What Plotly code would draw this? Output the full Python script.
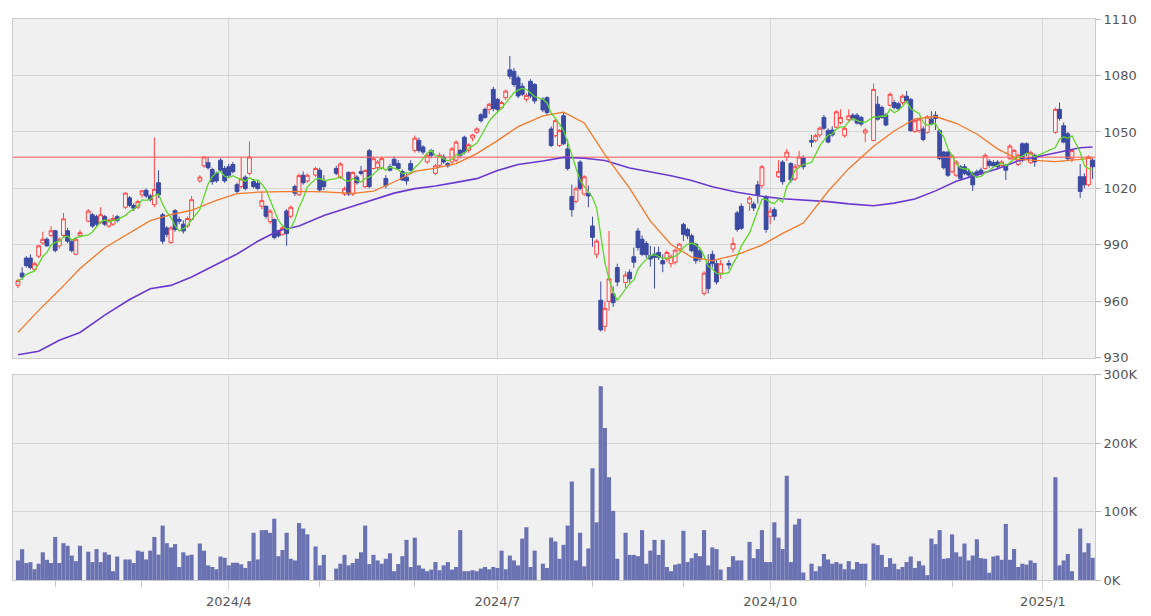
import pandas as pd
import plotly.graph_objects as go

# trading calendar: weekdays minus the Japanese market holidays in the window
holidays = ["2024-02-12", "2024-02-23", "2024-03-20", "2024-04-29", "2024-05-03",
            "2024-05-06", "2024-07-15", "2024-08-12", "2024-09-16", "2024-09-23",
            "2024-10-14", "2024-11-04", "2024-12-31", "2025-01-01", "2025-01-02",
            "2025-01-03", "2025-01-13"]
dates = pd.bdate_range("2024-01-19", "2025-01-17", freq="C", holidays=holidays)

# ---- daily prices (Jan 2024 .. Jan 2025) ----
open_ = [
    968.5, 975, 983, 983, 977, 984, 991, 993, 995,
    997.5, 989.5, 995, 997.5, 992, 985, 994.8, 1002.6, 1006, 1005, 1002, 1005, 1000, 1001, 1005, 1010, 1015, 1011, 1010,
    1016.6, 1019, 1016, 1011.4, 1023, 1006, 999, 991.3, 1008.2, 1003.5, 1001, 1000, 1003.5, 1024, 1032, 1033.7, 1030, 1028, 1035, 1030.6,
    1031.5, 1032.7, 1022, 1021, 1026, 1028, 1023.6, 1022.7, 1010.5, 1010.5, 1002.4, 1003.5, 997.4, 995.6, 1008, 1005.2, 1021, 1016.6, 1027, 1024, 1027.1,
    1029.7, 1024, 1030.6, 1025.7, 1017, 1028.5, 1017, 1026, 1029, 1021, 1040, 1030.6, 1031, 1030.6, 1025.3, 1031.5, 1035.5, 1033.2, 1028.9, 1026, 1033.2,
    1040.2, 1045.5, 1042, 1034.1, 1040.2, 1028, 1032.3, 1036.7, 1033.2, 1034.1, 1035, 1040.2, 1047.2, 1040.2, 1046.7, 1049.8, 1059.1, 1062, 1062, 1072.6,
    1067.3, 1062.9, 1068.2, 1083, 1082.2, 1078.7, 1074.3, 1067.3, 1076.9, 1075.2, 1067.3, 1068.2, 1051.6, 1048, 1042.8, 1058.6, 1041, 1015.7, 1013.1, 1034, 1017, 1017.5,
    1000, 985, 960.6, 946.7, 960, 964, 978, 970, 975.5, 983.7, 997.4, 993, 990.7, 984.3, 985.1, 986, 981.6, 982.5, 980, 980.8, 987.8,
    1000.9, 998.2, 994.8, 990.4, 986.9, 964.2, 980.2, 985, 980, 975, 980.2, 987.8, 1007, 1010.5, 1012.2, 1011.7, 1021.9, 1021.5, 1015.7,
    1005.2, 1008.7, 1026.2, 1034, 1036.7, 1033.2, 1025, 1032, 1036.2, 1045.5, 1045.5, 1048.4, 1057.7, 1050.7, 1051, 1052.5, 1055, 1048, 1056.5, 1058.9, 1058.9, 1057.7,
    1049.5, 1045.5, 1064.7, 1063, 1059, 1064.2, 1065.6, 1065, 1065.6, 1069, 1067.3, 1050.2, 1050.7, 1051.6, 1049.8, 1056.8, 1058.9, 1050.7, 1039.3, 1039.3,
    1028.9, 1027, 1031.5, 1031.5, 1028.8, 1028, 1028.8, 1029.7, 1030.6, 1034.4, 1033.7, 1034, 1032.3, 1032.3, 1035.8, 1035.5, 1032.7, 1043.7, 1043.7, 1033.7, 1037.6,
    1049.8, 1062, 1053.3, 1049, 1035.8, 1026.2, 1026.2, 1021.9, 1035,
]
high = [
    972, 978, 984, 985, 981, 990, 997, 994, 1000,
    998, 994, 1007, 999, 993, 994, 998, 1009, 1007, 1006, 1010, 1006, 1004, 1006, 1006, 1018, 1016, 1012, 1014,
    1019, 1020, 1017, 1047, 1029.7, 1007, 1000, 1000, 1009, 1005, 1003, 1005, 1016, 1027, 1037, 1037, 1031, 1029, 1036, 1032,
    1033, 1034, 1023, 1036.7, 1027, 1045, 1025, 1024, 1018.4, 1011, 1009, 1004, 998, 1000, 1009, 1011, 1022, 1028, 1029, 1028, 1031.5,
    1031, 1027, 1032, 1034, 1021, 1029, 1029, 1027, 1032, 1030, 1041, 1037, 1035, 1037, 1027, 1033, 1037, 1035, 1030, 1028, 1035,
    1048, 1047, 1043, 1039, 1041, 1033, 1039, 1038, 1034, 1042, 1045.5, 1041, 1048, 1044, 1049, 1052.5, 1060, 1063, 1065.5, 1074,
    1068, 1066.5, 1072.5, 1090.4, 1084, 1080, 1076, 1070.5, 1078, 1076, 1068.5, 1069, 1053, 1057, 1051.5, 1060, 1046, 1022, 1021, 1035, 1027, 1021.5,
    1005, 993, 970.5, 960, 997.4, 968, 980, 976, 977, 988.6, 999, 995, 992, 989.5, 989, 989, 985, 987, 985, 988, 991,
    1001.7, 999, 996, 991, 988, 976, 985, 987, 982, 982, 982, 994, 1008, 1012, 1016, 1013, 1024, 1032.5, 1016.5,
    1010, 1010, 1035, 1035, 1041, 1034, 1033, 1040, 1037.5, 1048.4, 1049, 1053, 1059, 1052, 1053, 1061.5, 1062, 1053, 1062, 1060, 1060, 1058.5,
    1052, 1075.7, 1069, 1064, 1060, 1071, 1067, 1066, 1070, 1071.7, 1068, 1057, 1057.5, 1053, 1059, 1061, 1061, 1051.5, 1040, 1040,
    1038, 1035, 1032.5, 1033, 1030, 1029, 1030, 1031, 1038.5, 1035.5, 1035, 1035, 1035, 1033, 1043.5, 1041, 1038.5, 1044.5, 1044.5, 1040, 1038.5,
    1063, 1065.6, 1055, 1050, 1041, 1033, 1028, 1037.5, 1036,
]
low = [
    967, 971.5, 978, 977, 976, 983, 990, 989, 994,
    986, 988, 994, 991, 986, 984.5, 994, 1002, 999, 1000, 1001, 1000, 999, 1000, 1002, 1009, 1010, 1008, 1009,
    1015, 1015, 1013, 1010, 1015, 990.5, 994, 990.5, 997, 1001, 996, 999, 1003, 1023, 1031, 1030, 1022, 1023, 1029, 1023,
    1026, 1028, 1017, 1020, 1019, 1027, 1020, 1019, 1009, 1004, 1001, 993, 994, 995, 989.5, 1004, 1016, 1016, 1022, 1023, 1026,
    1018, 1019, 1027, 1025, 1016, 1016, 1016, 1022, 1027, 1020, 1020, 1030, 1030, 1030, 1020, 1029, 1032, 1030, 1024, 1022, 1029,
    1039, 1039, 1038, 1033, 1036, 1027, 1031, 1033, 1031, 1033, 1034, 1036, 1038, 1039, 1045, 1049, 1055, 1057, 1059.5, 1061,
    1060, 1062, 1067, 1078, 1074, 1068, 1069, 1066, 1068, 1065, 1060.5, 1059, 1042, 1047, 1042, 1043, 1029.5, 1005, 1012, 1019, 1016, 1010,
    989, 983, 944, 944, 955, 957, 968, 967, 970, 977.8, 987, 984, 983, 978.5, 966.8, 982, 975.5, 981, 978, 979.5, 986.5,
    992, 993, 986, 980, 981, 963, 964.2, 978, 969, 972, 977, 986, 997, 998, 1008, 1008, 1012, 1020, 996.5,
    1001, 1003, 1025.5, 1022, 1034.5, 1023, 1024, 1031, 1030, 1042, 1044.5, 1047, 1051, 1044, 1047.5, 1052, 1054, 1047, 1055.5, 1056, 1054, 1053,
    1044.6, 1045, 1056, 1057, 1053, 1063.5, 1062, 1061.5, 1064.5, 1065.5, 1050, 1049.5, 1049.5, 1045, 1049, 1053.5, 1051, 1035, 1030, 1026,
    1028, 1026, 1024.5, 1027, 1026, 1018.7, 1026, 1027, 1030, 1031, 1031, 1030, 1031.5, 1024.5, 1035, 1035, 1032, 1034, 1037, 1033, 1031.5,
    1049, 1056, 1044, 1035, 1034, 1015, 1020, 1021, 1025,
]
close = [
    971, 973, 979, 978, 980, 989.5, 993, 989.5, 997.5,
    987, 993, 1003.8, 992, 987, 993, 996.5, 1008, 1000, 1001, 1006, 1001, 1003, 1004, 1003, 1017.5, 1011, 1009.5, 1013,
    1018.7, 1016, 1014, 1019.5, 1016.6, 992, 995.6, 999, 998.2, 1002.6, 997.4, 1004, 1014, 1026, 1036.7, 1031, 1023.6, 1024, 1029.7, 1024,
    1027, 1028.9, 1018.4, 1025, 1020, 1036.7, 1021, 1020, 1013.5, 1005.2, 1007.9, 993.9, 994.8, 999.1, 996, 1010, 1017.5, 1026.8, 1023, 1027, 1030.6,
    1019.2, 1021, 1028, 1033, 1019.8, 1017, 1028.5, 1023, 1028, 1029.6, 1021, 1035.8, 1034, 1035.8, 1021.5, 1029.7, 1032.3, 1030.6, 1024.5, 1024, 1029.7,
    1046.7, 1040.2, 1039.3, 1037.6, 1037.6, 1032, 1037.6, 1034.1, 1032, 1041, 1044.6, 1037.6, 1039.3, 1043.2, 1048.4, 1051.6, 1056, 1057.7, 1064.7, 1062.4,
    1062, 1065.6, 1071.7, 1079.6, 1075.2, 1069.1, 1070, 1069.4, 1069.1, 1066.5, 1061.7, 1060.3, 1042.8, 1056, 1050.7, 1043.7, 1030.6, 1008.7, 1019.8, 1020, 1026.2, 1016,
    994, 992, 944.9, 956.3, 972, 959.3, 970.3, 974, 972, 980.8, 988.6, 985, 984.8, 982.5, 983.4, 983.4, 979.9, 986, 983.7, 987.2, 990.4,
    995.6, 994.8, 986.9, 981.6, 982.5, 975, 966.8, 980, 970.3, 980, 979.3, 990.7, 998.2, 998.8, 1014.9, 1009.6, 1016.6, 1031.5, 998.2,
    1007.9, 1005.2, 1028.9, 1023.6, 1039.3, 1024.5, 1031.5, 1036.7, 1031.5, 1044.6, 1048, 1052, 1052, 1044.6, 1048.4, 1060.7, 1057.7, 1052, 1058.6, 1057.2, 1054.7, 1054.2,
    1051, 1072.6, 1056.8, 1057.7, 1053.7, 1070, 1063, 1062.4, 1069, 1066.5, 1050.7, 1056, 1056.8, 1046, 1058, 1054.2, 1057.2, 1035.8, 1031, 1027,
    1037.2, 1034, 1025.4, 1028, 1027.1, 1021.9, 1027.1, 1028, 1037.6, 1032.3, 1032, 1031.5, 1034.1, 1029.7, 1042.5, 1040.2, 1037.6, 1035, 1038.5, 1039, 1034.1,
    1062, 1057.2, 1044.6, 1035.8, 1040.2, 1018.4, 1021.9, 1036.7, 1031.5,
]
# volume in thousands of shares
volume_k = [
    28.6, 45, 24.8, 26, 15.7, 23.8, 40.5, 29.5, 24.8,
    62.9, 24.8, 53.8, 50, 35.7, 27.6, 50, 41.4, 26.2, 45.2, 26.2, 40.5, 37, 12.9, 34.3, 30, 30, 24.8, 42.9,
    41.4, 30, 42.9, 62.9, 37.1, 79.5, 53.8, 47.6, 52.4, 19, 40.5, 35.7, 37, 53.3, 42.9, 21.4, 19, 15.7, 34.3, 32.4,
    21.4, 25.2, 25.2, 22.9, 17.6, 27.6, 69, 30, 72.9, 72.9, 69, 89.5, 34.8, 43.8, 69, 31, 28.6, 83.3, 75.2, 66.7, 49,
    21.4, 36.7, 16.7, 23.8, 36.7, 21.4, 24.8, 31, 40.5, 79.5, 23.3, 36.7, 28.6, 23.8, 31, 39, 12.9, 23.3, 34.8, 58.6, 19,
    61.9, 21.4, 16.7, 12.9, 15.2, 26.2, 14.3, 21.4, 26.2, 15.2, 19, 72.9, 12.9, 12.9, 14.3, 12.9, 16.7, 19, 15.7, 19,
    17.6, 42.9, 15.7, 35.7, 28.6, 21.4, 60.5, 77.1, 19, 42.9, 23.8, 17.6, 61.9, 56.2, 31, 51.4, 79.5, 143.8, 28.6, 69, 20, 46.2,
    163.3, 84.3, 283, 222, 150, 101, 31, 69, 36.7, 36.7, 34.8, 72.9, 23.8, 42.9, 58.6, 36.7, 58.6, 19, 12.9, 22.4, 23.8,
    71.9, 26.2, 31.9, 39, 34.8, 72.9, 21.4, 47.6, 45.2, 15.2, 19, 34.8, 28.6, 28.6, 55.7, 31.9, 45.2, 72.9, 26.2,
    26.2, 84.3, 61.9, 45.2, 152.4, 26.2, 81, 89.5, 11, 23.8, 12.9, 20, 38.1, 30, 23.8, 26.2, 23.8, 15.7, 27.6, 15.7, 26.2, 23.8,
    23.8, 53.3, 51, 36.7, 19, 31.9, 23.8, 15.7, 19, 26.2, 34.3, 17.6, 27.6, 21.4, 7.1, 60.5, 52.4, 72.9, 31, 31.9,
    66.7, 40.5, 34.3, 53.3, 28.6, 35.7, 59.5, 31.9, 31, 10.5, 34.3, 35.7, 29.5, 81.9, 29.5, 45.2, 19, 23.8, 22.4, 28.6, 25,
    150, 21.4, 28.6, 38.1, 12.9, 75.2, 40.5, 53.8, 32.4,
]

# moving averages, one value every 5th trading day
ma_idx = list(range(0, 244, 5)) + [243]
ma25 = [943.5, 955.2, 966, 977.5, 988.5, 996.5, 1002.9, 1006.1, 1008.4, 1013.7,
        1017.2, 1018, 1018.2, 1018.4, 1018.2, 1017.4, 1018.6, 1023.4, 1029, 1030.8,
        1033.2, 1038.5, 1045.4, 1052.8, 1058.5, 1060.5, 1054.8, 1038, 1020, 1002.6,
        990.2, 983.5, 981.7, 984.8, 989.9, 996.1, 1001.6, 1018.5, 1030.5, 1042.4,
        1050.5, 1057, 1058.2, 1054.6, 1048.9, 1041, 1035.4, 1034.2, 1035.4, 1036.2]
ma75 = [931.6, 933.5, 939.3, 943.5, 952.7, 961, 966.7, 968.5, 973, 979.6,
        985.2, 991.9, 997.5, 1000, 1005.6, 1010.5, 1014.2, 1017.5, 1019.9, 1021.3,
        1023.2, 1025.2, 1029.5, 1032.7, 1034.6, 1036.5, 1036, 1034.8, 1030.8, 1028.9,
        1026.7, 1024.2, 1020.9, 1018, 1015.8, 1014.5, 1013.8, 1013, 1011.8, 1010.8,
        1012.2, 1014.4, 1018.7, 1023.8, 1027.2, 1030.5, 1034.7, 1038.8, 1041.6, 1042]
ref_price = 1036.5

quarter_ticks = ["2024-04-01", "2024-07-01", "2024-10-01", "2025-01-01"]
quarter_text = ["2024/4", "2024/7", "2024/10", "2025/1"]
month_ticks = ["2024-02-01", "2024-03-01", "2024-05-01", "2024-06-03", "2024-08-01",
               "2024-09-02", "2024-11-01", "2024-12-02"]

df = pd.DataFrame({"date": dates, "open": open_, "high": high, "low": low,
                   "close": close, "vol": [v * 1000 for v in volume_k]})
ma5 = df["close"].rolling(5, min_periods=1).mean()
ma_dates = df["date"].iloc[ma_idx]

GRID = "#d6d6d6"
BORDER = "#cccccc"
TXT = "#555555"
xrange = ["2024-01-17 19:00", "2025-01-17 14:00"]
breaks = [dict(bounds=["sat", "mon"])]

fig = go.Figure()
# reference price line, drawn first so the candles sit on top of it
fig.add_trace(go.Scatter(x=xrange, y=[ref_price, ref_price], mode="lines",
                         line=dict(color="rgba(255,100,100,0.75)", width=1.5),
                         xaxis="x", yaxis="y"))
fig.add_trace(go.Candlestick(
    x=df["date"], open=df["open"], high=df["high"], low=df["low"], close=df["close"],
    increasing=dict(line=dict(color="#ff4444", width=1), fillcolor="#fbf3f3"),
    decreasing=dict(line=dict(color="#3b4aa3", width=1), fillcolor="#3b4aa3"),
    whiskerwidth=0, xaxis="x", yaxis="y", hoverinfo="skip"))
fig.add_trace(go.Scatter(x=ma_dates, y=ma75, mode="lines",
                         line=dict(color="#6a3ad0", width=1.6), xaxis="x", yaxis="y"))
fig.add_trace(go.Scatter(x=ma_dates, y=ma25, mode="lines",
                         line=dict(color="#f5792a", width=1.3), xaxis="x", yaxis="y"))
fig.add_trace(go.Scatter(x=df["date"], y=ma5, mode="lines",
                         line=dict(color="#5fd62b", width=1.3), xaxis="x", yaxis="y"))
fig.add_trace(go.Bar(x=df["date"], y=df["vol"], width=86400000,
                     marker=dict(color="#6b72b2", line=dict(width=0)),
                     xaxis="x2", yaxis="y2", hoverinfo="skip"))

fig.update_layout(
    width=1151, height=616,
    margin=dict(l=4, r=64, t=4, b=44),
    paper_bgcolor="white", plot_bgcolor="#f0f0f0",
    showlegend=False, boxgap=0.08, boxgroupgap=0, hovermode=False,
    font=dict(family="DejaVu Sans", size=12, color=TXT),
    xaxis=dict(domain=[0, 1], anchor="y", type="date", range=xrange, rangebreaks=breaks,
               rangeslider=dict(visible=False), tickmode="array", tickvals=quarter_ticks,
               showticklabels=False, ticks="", showgrid=True, gridcolor=GRID, gridwidth=1,
               showline=True, mirror=True, linecolor=BORDER, zeroline=False),
    xaxis2=dict(domain=[0, 1], anchor="y2", type="date", range=xrange, rangebreaks=breaks,
                matches="x", tickmode="array", tickvals=quarter_ticks, ticktext=quarter_text,
                ticks="outside", ticklen=9, tickcolor=GRID,
                minor=dict(tickmode="array", tickvals=month_ticks, ticks="outside",
                           ticklen=6, tickcolor="#c4c4c4", showgrid=False),
                tickfont=dict(size=13, color=TXT),
                showgrid=True, gridcolor=GRID, gridwidth=1,
                showline=True, mirror=True, linecolor=BORDER, zeroline=False),
    yaxis=dict(domain=[0.396, 1], anchor="x", side="right", range=[930, 1110],
               tickmode="linear", tick0=930, dtick=30, ticks="outside", ticklen=5,
               tickcolor="#bbbbbb", tickfont=dict(size=13, color=TXT),
               showgrid=True, gridcolor=GRID, gridwidth=1,
               showline=True, mirror=True, linecolor=BORDER, zeroline=False),
    yaxis2=dict(domain=[0, 0.366], anchor="x2", side="right", range=[0, 300000],
                tickmode="array", tickvals=[0, 100000, 200000, 300000],
                ticktext=["0K", "100K", "200K", "300K"], ticks="outside", ticklen=5,
                tickcolor="#bbbbbb", tickfont=dict(size=13, color=TXT),
                showgrid=True, gridcolor=GRID, gridwidth=1,
                showline=True, mirror=True, linecolor=BORDER, zeroline=False),
)

fig.write_html("out.html")
